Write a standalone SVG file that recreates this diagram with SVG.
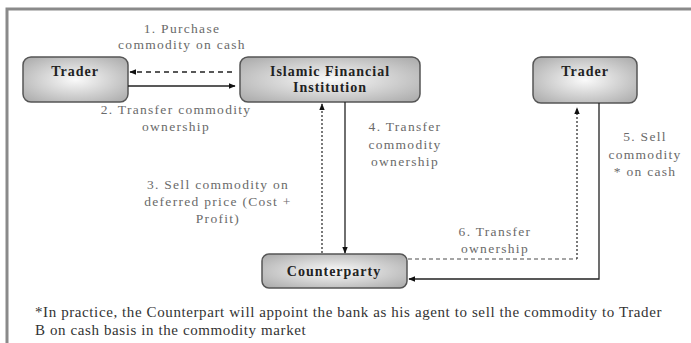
<svg xmlns="http://www.w3.org/2000/svg" width="691" height="343" viewBox="0 0 691 343">
<defs>
<radialGradient id="g" cx="50%" cy="50%" r="70%">
<stop offset="0" stop-color="#fafafa"/>
<stop offset="1" stop-color="#a8a8a8"/>
</radialGradient>
<marker id="ah" viewBox="0 0 10 10" refX="9" refY="5" markerWidth="7" markerHeight="7" markerUnits="userSpaceOnUse" orient="auto">
<path d="M0,1 L10,5 L0,9 Z" fill="#111"/>
</marker>
<style>
.box{fill:url(#g);stroke:#555;stroke-width:1.5}
.nt{font-family:"Liberation Serif",serif;font-weight:bold;font-size:14px;letter-spacing:1px;fill:#222;text-anchor:middle}
.lb{font-family:"Liberation Serif",serif;font-size:13.5px;letter-spacing:1.3px;fill:#6a6a6a;text-anchor:middle}
.fn{font-family:"Liberation Serif",serif;font-size:15px;letter-spacing:0.6px;fill:#333}
.solid{fill:none;stroke:#222;stroke-width:1.3}
.dash{fill:none;stroke:#222;stroke-width:1.3;stroke-dasharray:5,4}
.dot{fill:none;stroke:#333;stroke-width:1.3;stroke-dasharray:2,2}
.gdash{fill:none;stroke:#888;stroke-width:1.3;stroke-dasharray:4,3}
</style>
</defs>
<rect width="691" height="343" fill="#fff"/>
<path d="M7,343 L7,9 L691,9" fill="none" stroke="#8a8a8a" stroke-width="3"/>
<g id="trader-left"><rect class="box" x="23" y="57" width="105" height="45" rx="8"/><text class="nt" x="75" y="76">Trader</text></g>
<g id="ifi"><rect class="box" x="240" y="57" width="180" height="45" rx="8"/><text class="nt" x="330" y="76">Islamic Financial</text><text class="nt" x="330" y="92">Institution</text></g>
<g id="trader-right"><rect class="box" x="533" y="57" width="104" height="46" rx="8"/><text class="nt" x="585" y="76">Trader</text></g>
<g id="counterparty"><rect class="box" x="262" y="254" width="145" height="34" rx="7"/><text class="nt" x="334" y="276">Counterparty</text></g>
<g id="connectors">
<line class="dash" x1="232" y1="72" x2="130" y2="72" marker-end="url(#ah)"/>
<line class="solid" x1="128" y1="86" x2="235" y2="86" marker-end="url(#ah)"/>
<line class="dot" x1="322" y1="253" x2="322" y2="104" marker-end="url(#ah)"/>
<line class="solid" x1="345" y1="102" x2="345" y2="253" marker-end="url(#ah)"/>
<line class="gdash" x1="408" y1="259" x2="577" y2="259"/>
<line class="dot" x1="577" y1="259" x2="577" y2="108" marker-end="url(#ah)"/>
<polyline class="solid" points="599,103 599,279 409,279" marker-end="url(#ah)"/>
</g>
<g id="labels">
<text class="lb" x="182" y="33">1. Purchase</text>
<text class="lb" x="182" y="49">commodity on cash</text>
<text class="lb" x="176" y="114">2. Transfer commodity</text>
<text class="lb" x="176" y="131">ownership</text>
<text class="lb" x="218" y="189">3. Sell commodity on</text>
<text class="lb" x="218" y="206">deferred price (Cost +</text>
<text class="lb" x="218" y="223">Profit)</text>
<text class="lb" x="405" y="131">4. Transfer</text>
<text class="lb" x="405" y="149">commodity</text>
<text class="lb" x="405" y="166">ownership</text>
<text class="lb" x="645" y="141">5. Sell</text>
<text class="lb" x="645" y="159">commodity</text>
<text class="lb" x="645" y="176">* on cash</text>
<text class="lb" x="495" y="236">6. Transfer</text>
<text class="lb" x="495" y="253">ownership</text>
<text class="fn" x="35" y="317">*In practice, the Counterpart will appoint the bank as his agent to sell the commodity to Trader</text>
<text class="fn" x="35" y="335">B on cash basis in the commodity market</text>
</g>
</svg>
